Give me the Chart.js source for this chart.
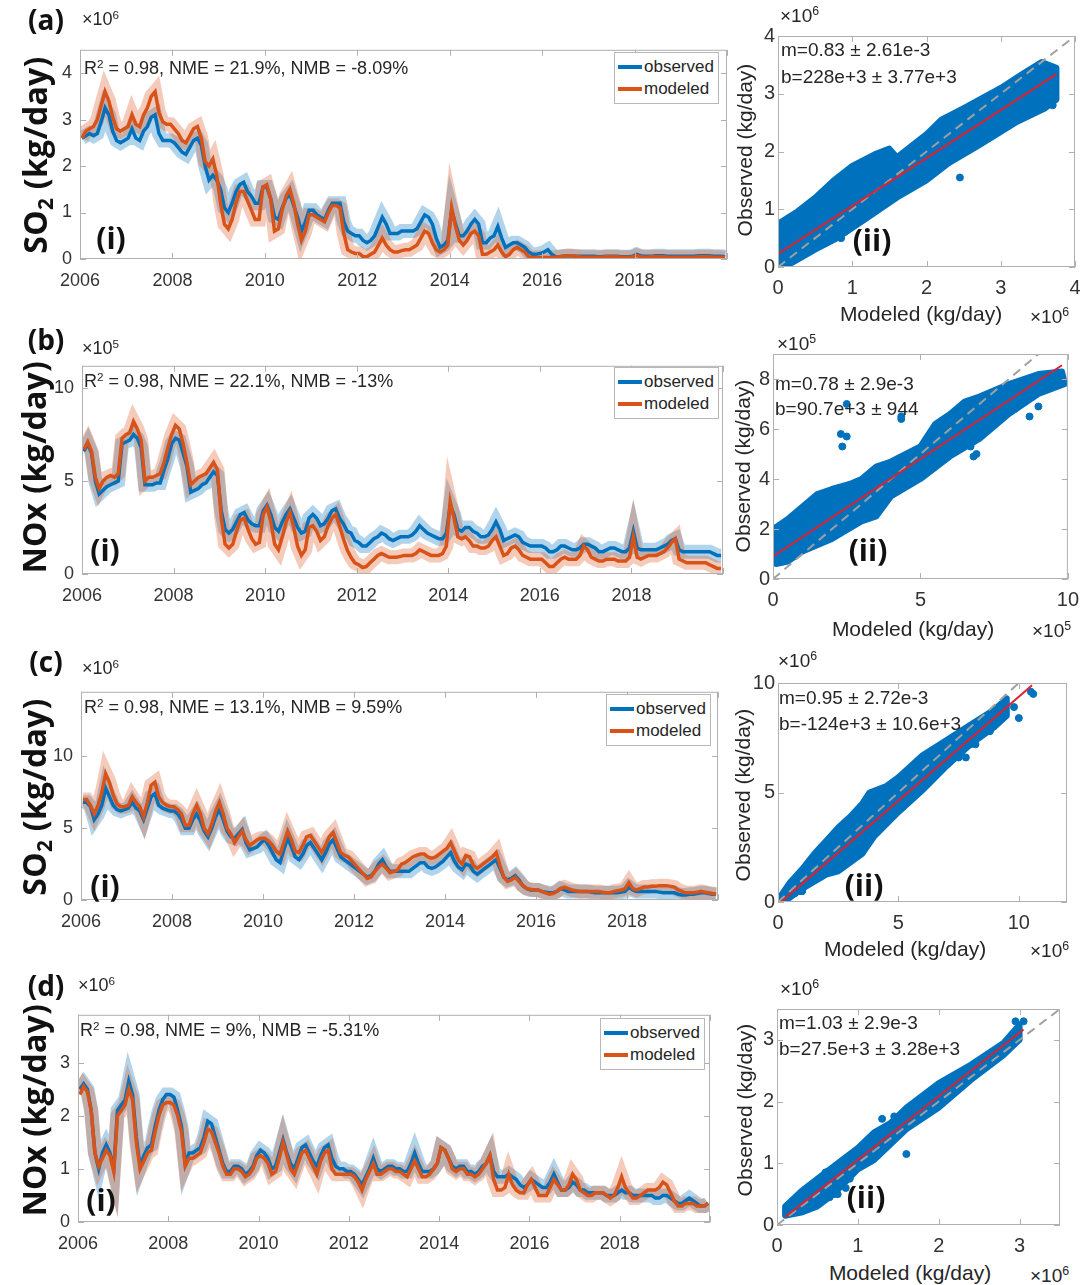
<!DOCTYPE html>
<html>
<head>
<meta charset="utf-8">
<script src="https://cdn.jsdelivr.net/npm/chart.js@4.4.1/dist/chart.umd.min.js"></script>
<style>
  body { margin: 0; width: 1084px; height: 1285px; position: relative; overflow: hidden; background: #fff;
         font-family: "Liberation Sans", Arial, sans-serif; color: #262626; }
  canvas { position: absolute; }
  .t { position: absolute; white-space: nowrap; z-index: 2; line-height: 1; }
  .c { transform: translate(-50%, -50%); }
  .l { transform: translate(0, -50%); }
  .rot { transform: translate(-50%, -50%) rotate(-90deg); }
  .bold { font-family: "Open Sans", sans-serif; font-weight: 700; color: #111; }
  .tag { font-size: 28px; }
  .ytitle { font-size: 32px; letter-spacing: 0.3px; }
  .sub { font-size: 18px; }
  .rt { font-size: 21px; }
  .note { font-size: 19px; }
  sup { font-size: 0.65em; vertical-align: 0.55em; line-height: 0; }
  sub { font-size: 0.65em; vertical-align: -0.3em; line-height: 0; }
  .legend { position: absolute; z-index: 2; background: #fff; border: 1px solid #b8b8b8; font-size: 17px;
            padding: 3px 4px 3px 3px; }
  .legend div { display: flex; align-items: center; height: 22px; }
  .legend span.sw { display: inline-block; width: 24px; height: 4px; margin-right: 2px; }
</style>
</head>
<body>

<!-- row (a) -->
<div class="t c bold tag" style="left:46px;top:19px">(a)</div>
<div class="t l sub" style="left:82px;top:19px">×10<sup>6</sup></div>
<div class="t rot bold ytitle" style="left:35px;top:155px">SO<sub>2</sub> (kg/day)</div>
<div class="t l sub" style="left:84px;top:68px">R<sup>2</sup> = 0.98, NME = 21.9%, NMB = -8.09%</div>
<div class="legend" style="left:614px;top:52px"><div><span class="sw" style="background:#0072BD"></span>observed</div><div><span class="sw" style="background:#D95319"></span>modeled</div></div>
<div class="t c bold tag" style="left:111px;top:238px;font-size:30px">(i)</div>
<div class="t l note" style="left:780px;top:15px">×10<sup>6</sup></div>
<div class="t rot rt" style="left:744px;top:150px">Observed (kg/day)</div>
<div class="t l note" style="left:781px;top:49px">m=0.83 ± 2.61e-3</div>
<div class="t l note" style="left:781px;top:76px">b=228e+3 ± 3.77e+3</div>
<div class="t c bold tag" style="left:872px;top:240px;font-size:30px">(ii)</div>
<div class="t c rt" style="left:921px;top:313px">Modeled (kg/day)</div>
<div class="t l note" style="left:1030px;top:316px">×10<sup>6</sup></div>

<!-- row (b) -->
<div class="t c bold tag" style="left:46px;top:339px">(b)</div>
<div class="t l sub" style="left:82px;top:348px">×10<sup>5</sup></div>
<div class="t rot bold ytitle" style="left:34px;top:467px">NOx (kg/day)</div>
<div class="t l sub" style="left:84px;top:381px">R<sup>2</sup> = 0.98, NME = 22.1%, NMB = -13%</div>
<div class="legend" style="left:614px;top:367px"><div><span class="sw" style="background:#0072BD"></span>observed</div><div><span class="sw" style="background:#D95319"></span>modeled</div></div>
<div class="t c bold tag" style="left:105px;top:550px;font-size:30px">(i)</div>
<div class="t l note" style="left:777px;top:343px">×10<sup>5</sup></div>
<div class="t rot rt" style="left:742px;top:466px">Observed (kg/day)</div>
<div class="t l note" style="left:775px;top:383px">m=0.78 ± 2.9e-3</div>
<div class="t l note" style="left:775px;top:408px">b=90.7e+3 ± 944</div>
<div class="t c bold tag" style="left:868px;top:550px;font-size:30px">(ii)</div>
<div class="t c rt" style="left:913px;top:628px">Modeled (kg/day)</div>
<div class="t l note" style="left:1032px;top:630px">×10<sup>5</sup></div>

<!-- row (c) -->
<div class="t c bold tag" style="left:46px;top:661px">(c)</div>
<div class="t l sub" style="left:82px;top:668px">×10<sup>6</sup></div>
<div class="t rot bold ytitle" style="left:34px;top:797px">SO<sub>2</sub> (kg/day)</div>
<div class="t l sub" style="left:84px;top:707px">R<sup>2</sup> = 0.98, NME = 13.1%, NMB = 9.59%</div>
<div class="legend" style="left:606px;top:694px"><div><span class="sw" style="background:#0072BD"></span>observed</div><div><span class="sw" style="background:#D95319"></span>modeled</div></div>
<div class="t c bold tag" style="left:105px;top:886px;font-size:30px">(i)</div>
<div class="t l note" style="left:778px;top:660px">×10<sup>6</sup></div>
<div class="t rot rt" style="left:742px;top:795px">Observed (kg/day)</div>
<div class="t l note" style="left:779px;top:697px">m=0.95 ± 2.72e-3</div>
<div class="t l note" style="left:779px;top:723px">b=-124e+3 ± 10.6e+3</div>
<div class="t c bold tag" style="left:864px;top:885px;font-size:30px">(ii)</div>
<div class="t c rt" style="left:905px;top:948px">Modeled (kg/day)</div>
<div class="t l note" style="left:1030px;top:950px">×10<sup>6</sup></div>

<!-- row (d) -->
<div class="t c bold tag" style="left:46px;top:985px">(d)</div>
<div class="t l sub" style="left:78px;top:985px">×10<sup>6</sup></div>
<div class="t rot bold ytitle" style="left:34px;top:1110px">NOx (kg/day)</div>
<div class="t l sub" style="left:80px;top:1030px">R<sup>2</sup> = 0.98, NME = 9%, NMB = -5.31%</div>
<div class="legend" style="left:600px;top:1018px"><div><span class="sw" style="background:#0072BD"></span>observed</div><div><span class="sw" style="background:#D95319"></span>modeled</div></div>
<div class="t c bold tag" style="left:101px;top:1200px;font-size:30px">(i)</div>
<div class="t l note" style="left:780px;top:988px">×10<sup>6</sup></div>
<div class="t rot rt" style="left:744px;top:1110px">Observed (kg/day)</div>
<div class="t l note" style="left:779px;top:1022px">m=1.03 ± 2.9e-3</div>
<div class="t l note" style="left:779px;top:1048px">b=27.5e+3 ± 3.28e+3</div>
<div class="t c bold tag" style="left:866px;top:1197px;font-size:30px">(ii)</div>
<div class="t c rt" style="left:910px;top:1272px">Modeled (kg/day)</div>
<div class="t l note" style="left:1030px;top:1275px">×10<sup>6</sup></div>

<script>
// monthly means, Jan 2006 - Dec 2019, one row per year
// (a) SO2, x10^6 kg/day
const so2aObserved = [
  2.6, 2.65, 2.7, 2.65, 2.7, 2.95, 3.25, 3.1, 2.75, 2.55, 2.5, 2.55,
  2.6, 2.8, 2.6, 2.55, 2.75, 2.85, 3.05, 3.1, 2.7, 2.55, 2.55, 2.55,
  2.5, 2.4, 2.3, 2.25, 2.4, 2.55, 2.6, 2.45, 2.0, 1.7, 1.8, 1.7,
  1.5, 1.1, 1.0, 1.2, 1.45, 1.6, 1.65, 1.45, 1.35, 1.2, 1.2, 1.55,
  1.55, 1.3, 0.9, 0.85, 1.1, 1.3, 1.4, 1.15, 0.9, 0.6, 0.8, 1.05,
  1.05, 0.95, 0.9, 0.85, 1.05, 1.2, 1.2, 1.2, 0.8, 0.6, 0.55, 0.5,
  0.5, 0.4, 0.35, 0.4, 0.5, 0.7, 0.9, 0.75, 0.55, 0.55, 0.55, 0.6,
  0.6, 0.6, 0.6, 0.65, 0.8, 0.95, 0.9, 0.75, 0.45, 0.25, 0.3, 0.4,
  1.05, 0.75, 0.5, 0.5, 0.6, 0.75, 0.85, 0.75, 0.35, 0.35, 0.45, 0.5,
  0.7, 0.45, 0.25, 0.3, 0.35, 0.35, 0.3, 0.25, 0.15, 0.1, 0.1, 0.12,
  0.15, 0.2, 0.1, 0.05, 0.05, 0.06, 0.07, 0.07, 0.06, 0.06, 0.06, 0.06,
  0.06, 0.06, 0.05, 0.05, 0.06, 0.06, 0.06, 0.06, 0.05, 0.05, 0.05, 0.06,
  0.1, 0.07, 0.06, 0.06, 0.06, 0.07, 0.07, 0.07, 0.06, 0.06, 0.06, 0.06,
  0.06, 0.06, 0.06, 0.06, 0.07, 0.07, 0.07, 0.07, 0.06, 0.06, 0.06, 0.05
];
const so2aModeled = [
  2.6, 2.75, 2.8, 2.85, 3.0, 3.3, 3.6, 3.4, 3.05, 2.8, 2.75, 2.8,
  2.85, 3.1, 2.9, 2.85, 3.1, 3.25, 3.5, 3.6, 3.15, 2.95, 2.9, 2.9,
  2.8, 2.7, 2.55, 2.5, 2.65, 2.8, 2.85, 2.6, 2.1, 2.0, 2.15, 1.8,
  1.2, 0.75, 0.65, 0.85, 1.2, 1.45, 1.45, 1.25, 1.05, 0.85, 0.85, 1.55,
  1.6, 1.3, 0.6, 0.65, 1.05, 1.35, 1.5, 1.2, 0.75, 0.4, 0.6, 0.95,
  0.95, 0.9, 0.85, 0.8, 1.0, 1.15, 1.15, 1.1, 0.55, 0.2, 0.15, 0.12,
  0.12, 0.05, 0.05, 0.1, 0.15, 0.3, 0.45, 0.3, 0.2, 0.15, 0.15, 0.18,
  0.2, 0.2, 0.25, 0.3, 0.45, 0.6, 0.55, 0.35, 0.2, 0.15, 0.2, 0.3,
  1.1, 0.7, 0.4, 0.3, 0.4, 0.55, 0.6, 0.5, 0.1, 0.1, 0.15, 0.2,
  0.3, 0.15, 0.05, 0.1, 0.2, 0.25, 0.2, 0.15, 0.05, 0.03, 0.03, 0.03,
  0.03, 0.03, 0.03, 0.04, 0.05, 0.06, 0.07, 0.07, 0.06, 0.05, 0.04, 0.04,
  0.04, 0.04, 0.04, 0.04, 0.05, 0.05, 0.05, 0.05, 0.04, 0.04, 0.04, 0.04,
  0.08, 0.05, 0.04, 0.04, 0.05, 0.05, 0.05, 0.05, 0.04, 0.04, 0.04, 0.04,
  0.04, 0.04, 0.04, 0.04, 0.05, 0.05, 0.05, 0.05, 0.04, 0.04, 0.04, 0.03
];

// (b) NOx, x10^5 kg/day
const noxbObserved = [
  6.6, 7.0, 6.5, 5.0, 4.3, 4.5, 4.7, 4.8, 4.9, 5.0, 7.0, 7.1,
  7.2, 7.5, 7.3, 6.8, 4.8, 4.8, 4.8, 4.9, 4.9, 5.6, 6.2, 7.0,
  7.3, 7.2, 6.5, 5.8, 4.4, 4.5, 4.6, 4.8, 4.9, 5.2, 5.5, 5.3,
  3.4, 2.4, 2.2, 2.4, 2.8, 3.2, 3.3, 2.9, 2.7, 2.6, 2.6, 3.4,
  3.7, 3.2, 2.5, 2.3, 2.8, 3.2, 3.5, 3.0, 2.5, 2.2, 2.3, 3.0,
  3.2, 3.0, 2.6, 2.7, 3.0, 3.4, 3.5, 3.0, 2.7, 2.3, 2.2, 1.8,
  1.7, 1.5, 1.5, 1.7, 1.9, 2.0, 2.2, 2.1, 1.9, 1.8, 1.9, 2.0,
  2.0, 2.0, 2.1, 2.3, 2.6, 2.4, 2.2, 2.1, 2.0, 1.9, 1.9, 2.2,
  3.7, 3.2, 2.4, 2.3, 2.5, 2.5, 2.3, 2.2, 2.0, 2.0, 2.1, 2.4,
  2.8, 2.4, 1.8, 1.9, 2.0, 2.1, 2.0, 1.7, 1.6, 1.5, 1.5, 1.5,
  1.5, 1.4, 1.2, 1.2, 1.3, 1.5, 1.5, 1.4, 1.3, 1.3, 1.4, 1.6,
  1.6, 1.5, 1.4, 1.2, 1.2, 1.3, 1.4, 1.4, 1.3, 1.2, 1.2, 1.4,
  2.3, 1.4, 1.3, 1.3, 1.3, 1.3, 1.3, 1.4, 1.5, 1.6, 1.8, 1.9,
  1.3, 1.2, 1.2, 1.2, 1.2, 1.2, 1.2, 1.2, 1.2, 1.1, 1.0, 1.0
];
const noxbModeled = [
  6.7, 7.1, 6.6, 5.2, 4.6, 5.0, 5.2, 5.3, 5.2, 5.4, 7.3, 7.5,
  7.6, 8.2, 7.8, 7.2, 5.0, 5.2, 5.2, 5.3, 5.4, 6.0, 6.8, 7.5,
  8.0, 7.8, 7.0, 6.0, 4.8, 5.0, 5.2, 5.3, 5.4, 5.7, 6.0, 5.6,
  3.0, 1.6, 1.4, 1.6, 2.3, 2.9, 3.0, 2.4, 1.9, 1.6, 1.7, 3.2,
  3.6, 2.8, 1.6, 1.3, 2.0, 2.8, 3.3, 2.5, 1.5, 1.0, 1.3, 2.5,
  2.6, 2.3, 1.8, 2.0, 2.6, 3.0, 3.2, 2.6, 1.9, 1.3, 0.9, 0.6,
  0.5, 0.35, 0.4, 0.6, 0.8, 1.0, 1.1, 1.0, 0.9, 0.9, 0.9, 0.95,
  1.0, 1.0, 1.0, 1.1, 1.3, 1.2, 1.1, 1.0, 1.0, 1.0, 1.1, 1.5,
  3.9, 3.0, 2.0, 1.9, 2.0, 1.8, 1.5, 1.5, 1.4, 1.4, 1.5, 1.8,
  2.0, 1.5, 1.0, 1.1, 1.4, 1.5, 1.3, 1.0, 0.9, 0.8, 0.8, 0.8,
  0.8, 0.6, 0.4, 0.4, 0.6, 0.8, 0.9, 0.8, 0.8, 0.8, 1.0, 1.5,
  1.3, 0.9, 0.8, 0.7, 0.7, 0.8, 0.8, 0.8, 0.7, 0.7, 0.7, 0.9,
  2.0, 0.9, 0.8, 0.9, 1.0, 1.0, 1.0, 1.1, 1.2, 1.4, 1.7, 1.9,
  0.8, 0.7, 0.6, 0.6, 0.6, 0.6, 0.6, 0.6, 0.5, 0.4, 0.3, 0.3
];

// (c) SO2, x10^6 kg/day
const so2cObserved = [
  6.8, 6.8, 6.5, 5.6, 6.0, 6.6, 7.8, 7.2, 6.6, 6.3, 6.2, 6.3,
  6.4, 6.8, 6.4, 6.2, 5.6, 6.4, 7.2, 7.4, 6.6, 6.4, 6.3, 6.2,
  6.2, 6.0, 5.6, 5.0, 5.0, 5.6, 6.0, 5.5, 4.8, 4.4, 5.0, 5.8,
  6.3, 5.6, 4.8, 4.4, 4.3, 4.6, 4.9, 4.0, 3.5, 3.6, 3.7, 4.0,
  4.2, 3.8, 3.3, 2.8, 2.6, 3.5, 4.3, 3.7, 3.0, 2.8, 3.2, 3.8,
  4.0, 3.6, 3.2, 2.8, 3.3, 3.9, 4.2, 3.6, 3.0, 2.8, 2.6, 2.4,
  2.2, 2.0, 1.8, 1.6, 1.7, 2.0, 2.5, 2.8, 2.3, 2.0, 2.0, 2.0,
  2.0, 2.0, 2.0, 2.2, 2.4, 2.6, 2.6, 2.3, 2.2, 2.3, 2.5, 2.7,
  3.0, 3.3, 2.7, 2.3, 2.1, 2.5, 2.4, 2.0, 1.8, 2.0, 2.2, 2.4,
  2.6, 2.8, 2.2, 1.6, 1.4, 1.5, 1.7, 1.4, 1.0, 0.8, 0.7, 0.7,
  0.7, 0.6, 0.55, 0.5, 0.5, 0.6, 0.8, 0.7, 0.6, 0.6, 0.6, 0.6,
  0.6, 0.6, 0.55, 0.5, 0.5, 0.5, 0.5, 0.5, 0.5, 0.5, 0.55, 0.6,
  0.9, 0.7, 0.6, 0.6, 0.6, 0.6, 0.6, 0.6, 0.55, 0.5, 0.5, 0.5,
  0.5, 0.4, 0.35, 0.35, 0.4, 0.4, 0.45, 0.5, 0.5, 0.45, 0.4, 0.4
];
const so2cModeled = [
  7.0, 7.0, 6.6, 6.0, 6.6, 7.5, 8.8, 8.2, 7.3, 6.7, 6.5, 6.5,
  6.6, 7.2, 6.8, 6.5, 5.8, 6.8, 8.0, 8.2, 7.2, 6.8, 6.6, 6.5,
  6.5, 6.3, 6.0, 5.2, 5.2, 6.0, 6.6, 6.0, 5.0, 4.6, 5.3, 6.2,
  6.8, 6.0, 5.0, 4.6, 4.0, 4.4, 4.8, 4.2, 3.8, 4.0, 4.2, 4.3,
  4.3, 4.1, 3.8, 3.4, 3.2, 4.0, 4.8, 4.2, 3.4, 3.3, 3.8, 4.4,
  4.5, 4.1, 3.7, 3.3, 3.8, 4.4, 4.7, 4.0, 3.3, 3.1, 3.0, 2.7,
  2.4, 2.1, 1.8, 1.5, 1.6, 2.0, 2.3, 2.5, 2.2, 1.9, 2.0, 2.1,
  2.5, 2.6, 2.8, 3.0, 3.1, 3.2, 3.2, 3.0, 2.9, 3.0, 3.2, 3.4,
  3.6, 4.0, 3.4, 2.8, 2.5, 3.1, 3.0, 2.4, 2.2, 2.4, 2.6, 2.8,
  3.0, 3.3, 2.4, 1.6, 1.3, 1.4, 1.6, 1.3, 1.0, 0.8, 0.75, 0.7,
  0.7, 0.6, 0.5, 0.4, 0.45, 0.6, 0.8, 0.9, 0.8, 0.7, 0.65, 0.6,
  0.6, 0.6, 0.6, 0.6, 0.6, 0.55, 0.5, 0.5, 0.6, 0.65, 0.7, 0.8,
  1.2, 0.8, 0.7, 0.8, 0.9, 0.9, 0.95, 0.95, 1.0, 1.0, 1.0, 0.95,
  0.9, 0.7, 0.6, 0.5, 0.5, 0.5, 0.55, 0.6, 0.55, 0.5, 0.45, 0.4
];

// (d) NOx, x10^6 kg/day
const noxdObserved = [
  2.5, 2.6, 2.5, 2.1, 1.3, 1.0, 1.3, 1.45, 1.3, 1.0, 2.1, 2.2,
  2.3, 2.65, 2.4, 1.6, 1.05, 1.25, 1.4, 1.45, 1.8, 2.1, 2.3, 2.4,
  2.4, 2.35, 2.1, 1.8, 1.1, 1.3, 1.3, 1.35, 1.4, 1.6, 1.9, 1.85,
  1.6, 1.35, 1.1, 0.95, 0.95, 1.05, 1.05, 1.0, 0.9, 0.95, 1.05, 1.25,
  1.35, 1.3, 1.2, 1.0, 1.05, 1.3, 1.55, 1.3, 1.1, 1.0, 1.2, 1.4,
  1.45, 1.3, 1.15, 1.05, 1.25, 1.4, 1.45, 1.2, 1.05, 1.0, 1.0, 0.95,
  0.95, 0.9, 0.8, 0.7, 0.85, 1.0, 1.2, 1.0, 0.95, 1.0, 1.05, 1.05,
  1.0, 1.0, 0.95, 0.95, 1.1, 1.3, 1.1, 0.95, 0.95, 0.95, 1.0, 1.1,
  1.4, 1.35, 1.2, 1.05, 1.0, 1.05, 1.05, 0.95, 0.95, 0.9, 0.95, 1.05,
  1.1, 1.25, 0.95, 0.85, 0.85, 0.85, 0.9, 0.85, 0.8, 0.7, 0.65, 0.7,
  0.8, 0.75, 0.7, 0.65, 0.65, 0.75, 0.9, 0.75, 0.6, 0.6, 0.65, 0.75,
  0.7, 0.6, 0.6, 0.55, 0.55, 0.55, 0.55, 0.55, 0.5, 0.5, 0.5, 0.55,
  0.6, 0.55, 0.55, 0.5, 0.5, 0.5, 0.5, 0.5, 0.5, 0.45, 0.45, 0.5,
  0.5, 0.45, 0.4, 0.35, 0.35, 0.4, 0.45, 0.4, 0.35, 0.3, 0.3, 0.35
];
const noxdModeled = [
  2.4, 2.55, 2.45, 2.1, 1.3, 1.05, 1.2, 1.35, 1.25, 0.95, 2.0, 2.1,
  2.2, 2.5, 2.3, 1.5, 1.0, 1.15, 1.3, 1.35, 1.7, 2.0, 2.2, 2.25,
  2.25, 2.2, 2.0, 1.7, 1.05, 1.2, 1.2, 1.25, 1.3, 1.5, 1.75, 1.7,
  1.5, 1.3, 1.05, 0.9, 0.9, 1.0, 1.0, 0.95, 0.85, 0.9, 1.0, 1.2,
  1.25, 1.2, 1.1, 0.9, 0.95, 1.2, 1.5, 1.25, 1.0, 0.9, 1.1, 1.3,
  1.35, 1.2, 1.05, 0.9, 1.15, 1.3, 1.35, 1.0, 0.9, 0.9, 0.9, 0.9,
  0.9, 0.85, 0.75, 0.6, 0.8, 0.95, 1.1, 0.9, 0.9, 0.95, 1.0, 1.0,
  0.95, 0.95, 0.9, 0.85, 1.0, 1.15, 1.0, 0.85, 0.85, 0.9, 1.0, 1.1,
  1.4, 1.35, 1.2, 1.0, 0.95, 1.0, 1.0, 0.9, 0.9, 0.85, 0.9, 1.0,
  1.1, 1.25, 0.8, 0.6, 0.6, 0.65, 0.9, 0.7, 0.6, 0.55, 0.55, 0.7,
  0.8, 0.65, 0.5, 0.5, 0.5, 0.65, 0.8, 0.7, 0.6, 0.6, 0.7, 0.9,
  0.8, 0.6, 0.55, 0.5, 0.5, 0.55, 0.55, 0.55, 0.5, 0.45, 0.5, 0.65,
  0.85, 0.65, 0.55, 0.45, 0.45, 0.5, 0.55, 0.6, 0.6, 0.6, 0.65, 0.75,
  0.7, 0.55, 0.4, 0.3, 0.3, 0.35, 0.35, 0.35, 0.3, 0.3, 0.3, 0.35
];

// outline of the dense daily point cloud in each scatter panel, [modeled, observed]
const cloudA = [
  [0, 0.75], [0.25, 0.95], [0.5, 1.2], [0.75, 1.5], [1.0, 1.75], [1.3, 1.95], [1.5, 2.05],
  [1.6, 1.9], [2.0, 2.3], [2.2, 2.55], [2.5, 2.75], [3.0, 3.1], [3.3, 3.35], [3.55, 3.55],
  [3.75, 3.45], [3.75, 2.9], [3.6, 2.75], [3.2, 2.5], [2.7, 2.1], [2.3, 1.8], [2.0, 1.5],
  [1.6, 1.2], [1.2, 0.85], [0.8, 0.5], [0.5, 0.3], [0.2, 0.08], [0.05, 0], [0, 0.1]
];
const cloudB = [
  [0, 2.0], [0.5, 2.4], [1.0, 2.9], [1.5, 3.4], [2.0, 3.6], [2.6, 3.8], [3.0, 4.0], [3.5, 4.5],
  [4.0, 4.7], [5.0, 5.3], [5.5, 6.2], [6.0, 6.6], [6.5, 7.1], [7.0, 7.3], [8.0, 7.8], [9.0, 8.2],
  [9.8, 8.3], [9.9, 7.8], [9.0, 7.4], [8.0, 6.6], [7.0, 5.6], [6.0, 4.9], [5.0, 4.0], [4.0, 3.3],
  [3.5, 2.5], [3.0, 2.3], [2.0, 1.6], [1.0, 1.1], [0.5, 0.7], [0.1, 0.6], [0, 0.7]
];
const cloudC = [
  [0, 0.1], [0.5, 0.9], [1.0, 1.5], [1.5, 2.2], [2.0, 2.8], [2.5, 3.4], [3.0, 3.9], [3.5, 4.5],
  [3.8, 5.0], [4.5, 5.3], [5.0, 5.7], [5.5, 6.2], [6.0, 6.7], [7.0, 7.4], [8.0, 8.1], [9.0, 8.8],
  [9.5, 9.3], [9.5, 8.5], [9.0, 8.0], [8.0, 7.2], [7.0, 6.2], [6.0, 5.1], [5.0, 4.1], [4.0, 3.0],
  [3.5, 2.2], [3.0, 1.8], [2.5, 1.4], [2.0, 1.25], [1.0, 0.6], [0.5, 0.2], [0.2, 0]
];
const cloudD = [
  [0.1, 0.3], [0.3, 0.55], [0.5, 0.75], [0.8, 1.05], [1.0, 1.25], [1.2, 1.5], [1.4, 1.65],
  [1.6, 1.9], [2.0, 2.3], [2.4, 2.6], [2.8, 2.95], [3.0, 3.25], [3.0, 3.0], [2.8, 2.75],
  [2.4, 2.35], [2.0, 1.9], [1.6, 1.55], [1.2, 1.05], [1.0, 0.9], [0.7, 0.5], [0.5, 0.3],
  [0.3, 0.2], [0.1, 0.15]
];

// isolated points lying outside the cloud, [modeled, observed]
const strayA = [[2.45, 1.55], [0.85, 0.5], [3.7, 2.8], [2.3, 2.05], [2.2, 1.9]];
const strayB = [[2.5, 7.0], [2.3, 5.8], [2.5, 5.7], [2.35, 5.3], [4.35, 6.5], [4.35, 6.4], [3.95, 4.4],
  [8.2, 6.8], [8.7, 6.5], [9.0, 6.9], [6.7, 5.3], [6.9, 5.0], [6.8, 4.9], [5.9, 5.0]];
const strayC = [[10.5, 9.6], [10.6, 9.5], [10.0, 8.4], [9.8, 8.9], [7.8, 6.6]];
const strayD = [[1.6, 1.15], [1.3, 1.72], [1.45, 1.76], [3.05, 3.3], [2.95, 3.3]];

// linear fits printed in the scatter panels (kg/day)
const fitSlope = [0.83, 0.78, 0.95, 1.03];
const fitIntercept = [228e3, 90.7e3, -124e3, 27.5e3];
const unitScale = [1e6, 1e5, 1e6, 1e6];
const fitRange = [[0, 3.75], [0, 9.8], [0.15, 10.55], [0.1, 3.05]];

// axis limits and tick steps
const timeYMax = [4.5, 11.2, 14.5, 3.9];
const timeYStep = [1, 5, 5, 1];
const scatterXMax = [4, 10, 12, 3.5];
const scatterYMax = [4, 9, 10, 3.5];
const scatterXStep = [1, 5, 5, 1];
const scatterYStep = [1, 2, 5, 1];

const months = [];
for (let y = 2006; y < 2020; y++) {
  for (let m = 0; m < 12; m++) months.push(y + (m + 0.5) / 12);
}

const series = [
  [so2aObserved, so2aModeled],
  [noxbObserved, noxbModeled],
  [so2cObserved, so2cModeled],
  [noxdObserved, noxdModeled]
];
const clouds = [cloudA, cloudB, cloudC, cloudD];
const strays = [strayA, strayB, strayC, strayD];

// plot-area rectangles on the page
const timeRects = [
  { l: 80, t: 45, r: 727, b: 259 },
  { l: 82, t: 361, r: 723, b: 574 },
  { l: 81, t: 687, r: 718, b: 900 },
  { l: 78, t: 1010, r: 710, b: 1222 }
];
const scatterRects = [
  { l: 778, t: 35, r: 1075, b: 267 },
  { l: 773, t: 353, r: 1070, b: 579 },
  { l: 778, t: 682, r: 1067, b: 902 },
  { l: 777, t: 1008, r: 1060, b: 1225 }
];

const BLUE = '#0072BD', ORANGE = '#D95319';
const PAD_T = 14, PAD_R = 18;
const AXIS_W = 48, AXIS_H = 32;

function placeCanvas(rect) {
  const c = document.createElement('canvas');
  const w = rect.r - rect.l + AXIS_W + PAD_R;
  const h = rect.b - rect.t + PAD_T + AXIS_H;
  c.width = w;
  c.height = h;
  c.style.left = (rect.l - AXIS_W) + 'px';
  c.style.top = (rect.t - PAD_T) + 'px';
  c.style.width = w + 'px';
  c.style.height = h + 'px';
  document.body.appendChild(c);
  return c;
}

// box around the axes with inward tick marks on all four sides
const boxPlugin = {
  id: 'axesBox',
  afterDraw(chart) {
    const { ctx, chartArea: a, scales } = chart;
    ctx.save();
    ctx.strokeStyle = '#b0b0b0';
    ctx.lineWidth = 1;
    ctx.strokeRect(a.left + 0.5, a.top + 0.5, a.right - a.left - 1, a.bottom - a.top - 1);
    ctx.beginPath();
    scales.x.ticks.forEach(t => {
      const px = Math.round(scales.x.getPixelForValue(t.value)) + 0.5;
      ctx.moveTo(px, a.bottom); ctx.lineTo(px, a.bottom - 6);
      ctx.moveTo(px, a.top); ctx.lineTo(px, a.top + 6);
    });
    scales.y.ticks.forEach(t => {
      const py = Math.round(scales.y.getPixelForValue(t.value)) + 0.5;
      ctx.moveTo(a.left, py); ctx.lineTo(a.left + 6, py);
      ctx.moveTo(a.right, py); ctx.lineTo(a.right - 6, py);
    });
    ctx.stroke();
    ctx.restore();
  }
};

// filled outline of the point cloud, drawn under the datasets
const cloudPlugin = {
  id: 'pointCloud',
  beforeDatasetsDraw(chart, args, opts) {
    if (!opts.outline) return;
    const { ctx, chartArea: a, scales: { x, y } } = chart;
    ctx.save();
    ctx.beginPath();
    ctx.rect(a.left, a.top, a.right - a.left, a.bottom - a.top);
    ctx.clip();
    ctx.beginPath();
    opts.outline.forEach(([mx, oy], k) => {
      const px = x.getPixelForValue(mx), py = y.getPixelForValue(oy);
      if (k === 0) ctx.moveTo(px, py); else ctx.lineTo(px, py);
    });
    ctx.closePath();
    ctx.fillStyle = opts.color;
    ctx.strokeStyle = opts.color;
    ctx.lineWidth = 6;
    ctx.lineJoin = 'round';
    ctx.fill();
    ctx.stroke();
    ctx.restore();
  }
};

function axis(min, max, step, size, pad, hideMax) {
  return {
    type: 'linear', min, max,
    grid: { display: false, drawTicks: false },
    border: { display: false },
    afterBuildTicks: s => {
      const ticks = [];
      for (let v = min; v <= max + 1e-9; v += step) ticks.push({ value: +v.toFixed(6) });
      s.ticks = ticks;
    },
    ticks: {
      autoSkip: false, color: '#333', padding: pad,
      font: { family: 'Liberation Sans', size },
      callback: v => (hideMax && v === max ? '' : String(v))
    }
  };
}

function baseOptions(xs, ys) {
  xs.afterFit = s => { s.height = AXIS_H; };
  ys.afterFit = s => { s.width = AXIS_W; };
  return {
    responsive: false,
    animation: false,
    layout: { padding: { top: PAD_T, right: PAD_R, left: 0, bottom: 0 } },
    plugins: { legend: { display: false }, tooltip: { enabled: false } },
    scales: { x: xs, y: ys }
  };
}

function timeChart(i) {
  const [obs, mod] = series[i];
  const pts = arr => arr.map((v, k) => ({ x: months[k], y: v }));
  const line = (arr, color, width, order) => ({
    data: pts(arr), showLine: true, borderColor: color, borderWidth: width,
    pointRadius: 0, tension: 0, order
  });
  const xs = axis(2006, 2020, 2, 18, 11, true);
  const ys = axis(0, timeYMax[i], timeYStep[i], 18, 8, false);
  new Chart(placeCanvas(timeRects[i]), {
    type: 'scatter',
    data: {
      datasets: [
        line(mod, ORANGE, 3.5, 0),
        line(obs, BLUE, 3.5, 1),
        line(mod, 'rgba(217,83,25,0.3)', 14, 2),
        line(obs, 'rgba(0,114,189,0.3)', 14, 3)
      ]
    },
    options: baseOptions(xs, ys),
    plugins: [boxPlugin]
  });
}

function scatterChart(i) {
  const [obs, mod] = series[i];
  const m = fitSlope[i];
  const b = fitIntercept[i] / unitScale[i];
  const [x0, x1] = fitRange[i];
  const xs = axis(0, scatterXMax[i], scatterXStep[i], 20, 9, false);
  const ys = axis(0, scatterYMax[i], scatterYStep[i], 20, 3, false);
  const lim = Math.min(scatterXMax[i], scatterYMax[i]);
  const opts = baseOptions(xs, ys);
  opts.plugins.pointCloud = { outline: clouds[i], color: BLUE };
  new Chart(placeCanvas(scatterRects[i]), {
    type: 'scatter',
    data: {
      datasets: [
        { data: [{ x: x0, y: m * x0 + b }, { x: x1, y: m * x1 + b }], showLine: true,
          borderColor: '#e0202e', borderWidth: 2, pointRadius: 0, order: 0 },
        { data: [{ x: 0, y: 0 }, { x: lim, y: lim }], showLine: true,
          borderColor: '#a0a0a0', borderWidth: 2, borderDash: [9, 6], pointRadius: 0, order: 1 },
        { data: mod.map((v, k) => ({ x: v, y: obs[k] })), backgroundColor: BLUE,
          borderColor: BLUE, pointRadius: 3.5, order: 2 },
        { data: strays[i].map(([mx, oy]) => ({ x: mx, y: oy })), backgroundColor: BLUE,
          borderColor: BLUE, pointRadius: 3.5, order: 3 }
      ]
    },
    options: opts,
    plugins: [cloudPlugin, boxPlugin]
  });
}

for (let i = 0; i < 4; i++) {
  timeChart(i);
  scatterChart(i);
}
</script>
</body>
</html>
